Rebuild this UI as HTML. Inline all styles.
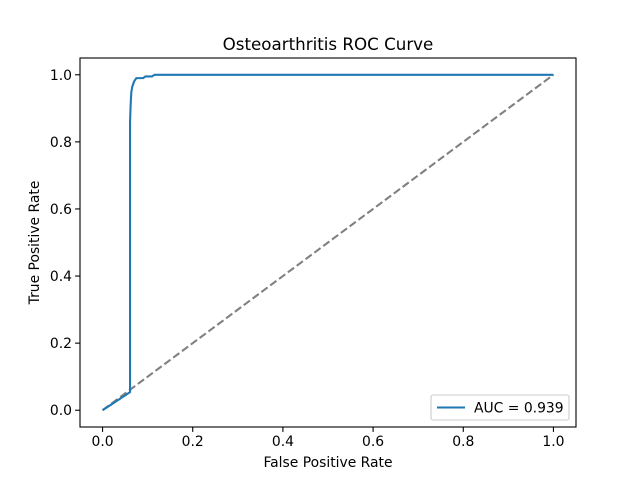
<!DOCTYPE html>
<html><head><meta charset="utf-8"><style>body{margin:0;background:#fff}svg{display:block;font-family:"DejaVu Sans","Liberation Sans",sans-serif}</style></head>
<body>
<svg id="c" width="640" height="480"></svg>
<script>
const fpr=[0,0.061,0.061,0.062,0.063,0.064,0.066,0.07,0.075,0.09,0.095,0.11,0.115,1];
const tpr=[0,0.054,0.86,0.90,0.93,0.95,0.965,0.98,0.99,0.99,0.995,0.995,1.0,1];
const diagX=[0,1];
const diagY=[0,1];
const xTicks=[0,0.2,0.4,0.6,0.8,1.0];
const yTicks=[0,0.2,0.4,0.6,0.8,1.0];
const xTickLabels=["0.0","0.2","0.4","0.6","0.8","1.0"];
const yTickLabels=["0.0","0.2","0.4","0.6","0.8","1.0"];
const aucLabel="AUC = 0.939";
const L=80,R=576,T=58,B=427;
const sx=v=>L+(v+0.05)/1.1*(R-L);
const sy=v=>B-(v+0.05)/1.1*(B-T);
const NS="http://www.w3.org/2000/svg";
const svg=document.getElementById('c');
function mk(tag,attrs,parent){const e=document.createElementNS(NS,tag);for(const k in attrs)e.setAttribute(k,attrs[k]);(parent||svg).appendChild(e);return e;}
let e;
e=mk('path',{d:'M'+diagX.map((x,i)=>sx(x)+','+sy(diagY[i])).join('L'),fill:'none',stroke:'#808080','stroke-width':2.08,'stroke-dasharray':'7.7,3.3'});


e=mk('path',{d:'M'+fpr.map((x,i)=>sx(x)+','+sy(tpr[i])).join('L'),fill:'none',stroke:'#1f77b4','stroke-width':2.08,'stroke-linejoin':'round'});


e=mk('rect',{x:L,y:T,width:R-L,height:B-T,fill:'none',stroke:'#000','stroke-width':1.1});


xTicks.forEach((v,i)=>{const x=sx(v);
e=mk('line',{x1:x,x2:x,y1:B,y2:B+4.9,stroke:'#000','stroke-width':1.1});


e=mk('text',{x:x,y:B+19,'text-anchor':'middle','font-size':13.9});e.textContent=xTickLabels[i];

});
yTicks.forEach((v,i)=>{const y=sy(v);
e=mk('line',{x1:L-4.9,x2:L,y1:y,y2:y,stroke:'#000','stroke-width':1.1});


e=mk('text',{x:L-8,y:y+5,'text-anchor':'end','font-size':13.9});e.textContent=yTickLabels[i];

});
e=mk('text',{x:(L+R)/2,y:50,'text-anchor':'middle','font-size':16.7});e.textContent='Osteoarthritis ROC Curve';


e=mk('text',{x:(L+R)/2,y:467,'text-anchor':'middle','font-size':13.9});e.textContent='False Positive Rate';


e=mk('text',{x:0,y:0,'text-anchor':'middle','font-size':13.9,transform:'translate(39,'+((T+B)/2)+') rotate(-90)'});e.textContent='True Positive Rate';


const g=mk('g',{});


mk('rect',{x:431,y:395,width:138,height:25,rx:2,fill:'#fff',stroke:'#ccc','stroke-width':1.1},g);
e=mk('line',{x1:437,x2:465,y1:407.5,y2:407.5,stroke:'#1f77b4','stroke-width':2.08},g);


e=mk('text',{x:474,y:412.5,'font-size':13.9},g);e.textContent=aucLabel;


</script>
</body></html>
